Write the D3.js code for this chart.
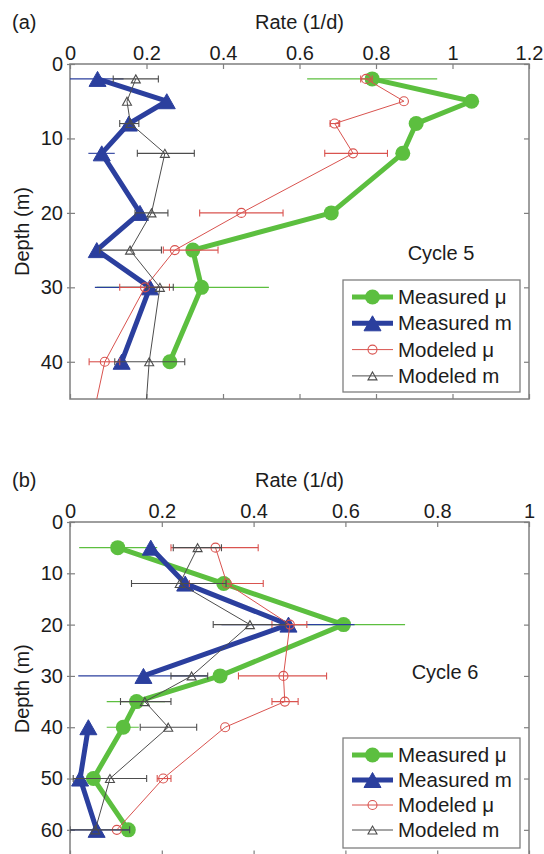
<!DOCTYPE html>
<html><head><meta charset="utf-8">
<script src="https://cdn.jsdelivr.net/npm/d3@7"></script>
<style>body{margin:0;background:#fff;} text{font-family:"Liberation Sans",Arial,Helvetica,sans-serif;}</style>
</head><body><svg id="c" width="544" height="854"></svg>
<script>
// ---------- Panel (a): Cycle 5 ----------
const depthA = [2, 5, 8, 12, 20, 25, 30, 40];
const measMuA    = [0.79, 1.05, 0.905, 0.87, 0.683, 0.321, 0.344, 0.261];
const measMuA_lo = [0.62, null, null, null, null, null, 0.07, null];
const measMuA_hi = [0.96, null, null, null, null, null, 0.52, null];
const measMA     = [0.072, 0.253, 0.154, 0.083, 0.183, 0.07, 0.209, 0.135];
const measMA_lo  = [0.0, null, 0.135, 0.048, null, null, 0.065, null];
const measMA_hi  = [0.14, null, 0.17, 0.117, null, null, 0.24, null];
const modMuA     = [0.774, 0.873, 0.692, 0.74, 0.448, 0.274, 0.196, 0.091];
const modMuA_lo  = [0.76, null, 0.68, 0.666, 0.339, 0.244, 0.13, 0.05];
const modMuA_hi  = [0.79, null, 0.705, 0.83, 0.557, 0.387, 0.26, 0.13];
const modMA      = [0.172, 0.149, 0.158, 0.248, 0.213, 0.157, 0.235, 0.207];
const modMA_lo   = [0.113, null, 0.13, 0.176, 0.17, 0.078, 0.2, 0.117];
const modMA_hi   = [0.231, null, 0.18, 0.325, 0.256, 0.239, 0.27, 0.30];
// modeled profiles continue to the bottom of the panel
const tailDepthA = [45];
const modMuTailA = [0.07];
const modMTailA  = [0.2];
const xTicksA = [0, 0.2, 0.4, 0.6, 0.8, 1, 1.2];
const yTicksA = [0, 10, 20, 30, 40];

// ---------- Panel (b): Cycle 6 ----------
const depthB = [5, 12, 20, 30, 35, 40, 50, 60];
const measMuB    = [0.104, 0.335, 0.596, 0.327, 0.145, 0.116, 0.051, 0.127];
const measMuB_lo = [0.02, null, 0.46, null, 0.08, 0.08, null, null];
const measMuB_hi = [0.19, null, 0.73, null, 0.207, 0.15, null, null];
const measMB     = [0.176, 0.251, 0.476, 0.160, null, 0.04, 0.022, 0.058];
const measMB_lo  = [null, 0.16, 0.33, 0.018, null, null, null, 0.0];
const measMB_hi  = [null, 0.376, 0.62, 0.30, null, null, null, 0.13];
const modMuB     = [0.317, 0.342, 0.479, 0.465, 0.468, 0.338, 0.203, 0.102];
const modMuB_lo  = [0.22, 0.26, 0.44, 0.367, 0.44, null, 0.19, null];
const modMuB_hi  = [0.41, 0.421, 0.516, 0.559, 0.497, null, 0.22, null];
const modMB      = [0.278, 0.239, 0.392, 0.265, 0.163, 0.214, 0.087, 0.055];
const modMB_lo   = [0.225, 0.134, 0.312, 0.22, 0.11, 0.153, 0.007, 0.0];
const modMB_hi   = [0.33, 0.34, 0.47, 0.30, 0.22, 0.276, 0.167, 0.13];
const xTicksB = [0, 0.2, 0.4, 0.6, 0.8, 1];
const yTicksB = [0, 10, 20, 30, 40, 50, 60];

const seriesNames = ["Measured \u03bc", "Measured m", "Modeled \u03bc", "Modeled m"];
const COL = {green: "#5cbf3f", blue: "#2b3f9e", red: "#d9534f", gray: "#4d4d4d", axis: "#7f7f7f", text: "#1c1c1c"};

const svg = d3.select("#c");

function triPath(w, h) {
  return `M0,${-h/2}L${w/2},${h/2}L${-w/2},${h/2}Z`;
}

function panel(cfg) {
  const x = d3.scaleLinear().domain(cfg.xDomain).range([cfg.left, cfg.right]);
  const y = d3.scaleLinear().domain(cfg.yDomain).range([cfg.top, cfg.bottom]);
  const g = svg.append("g");
  const clipId = "clip" + cfg.id;
  g.append("clipPath").attr("id", clipId).append("rect")
    .attr("x", cfg.left).attr("y", cfg.top)
    .attr("width", cfg.right - cfg.left).attr("height", cfg.bottom - cfg.top);

  // axes
  const top = g.append("g").attr("transform", `translate(0,${cfg.top})`)
    .call(d3.axisTop(x).tickValues(cfg.xTicks).tickFormat(d3.format("~g")).tickSize(-5).tickPadding(4));
  const bot = g.append("g").attr("transform", `translate(0,${cfg.bottom})`)
    .call(d3.axisBottom(x).tickValues(cfg.xTicks).tickFormat("").tickSize(-5));
  const lft = g.append("g").attr("transform", `translate(${cfg.left},0)`)
    .call(d3.axisLeft(y).tickValues(cfg.yTicks).tickFormat(d3.format("~g")).tickSize(-5).tickPadding(7));
  const lft2 = g.append("g").attr("transform", `translate(${cfg.left},0)`)
    .call(d3.axisLeft(y).tickValues(cfg.yTicks).tickFormat("").tickSize(3));
  const rgt = g.append("g").attr("transform", `translate(${cfg.right},0)`)
    .call(d3.axisRight(y).tickValues(cfg.yTicks).tickFormat("").tickSize(-5));
  [top, bot, lft, lft2, rgt].forEach(a => {
    a.select(".domain").remove();
    a.selectAll(".tick line").attr("stroke", COL.axis).attr("stroke-width", 1.2);
    a.selectAll("text").attr("font-size", 20).attr("fill", COL.text)
      .style("font-family", '"Liberation Sans",Arial,sans-serif');
  });
  g.append("rect").attr("x", cfg.left).attr("y", cfg.top)
    .attr("width", cfg.right - cfg.left).attr("height", cfg.bottom - cfg.top)
    .attr("fill", "none").attr("stroke", COL.axis).attr("stroke-width", 1.5);

  // labels
  g.append("text").attr("x", (cfg.left + cfg.right) / 2).attr("y", cfg.top - 35)
    .attr("text-anchor", "middle").attr("font-size", 20).attr("fill", COL.text).text("Rate (1/d)");
  g.append("text").attr("x", 12).attr("y", cfg.top - 35)
    .attr("font-size", 20).attr("fill", COL.text).text(cfg.tag);
  g.append("text").attr("transform", `translate(29,${(cfg.top + cfg.bottom) / 2}) rotate(-90)`)
    .attr("text-anchor", "middle").attr("font-size", 20).attr("fill", COL.text).text("Depth (m)");
  g.append("text").attr("x", cfg.cycleX).attr("y", cfg.cycleY)
    .attr("text-anchor", "middle").attr("font-size", 20).attr("fill", COL.text).text(cfg.cycle);

  const plot = g.append("g").attr("clip-path", `url(#${clipId})`);

  cfg.series.forEach(s => {
    const pts = s.depth.map((d, i) => ({d, v: s.vals[i], lo: s.lo ? s.lo[i] : null, hi: s.hi ? s.hi[i] : null}));
    // error bars
    pts.filter(p => p.v != null && p.lo != null && p.hi != null).forEach(p => {
      plot.append("line").attr("x1", x(p.lo)).attr("x2", x(p.hi)).attr("y1", y(p.d)).attr("y2", y(p.d))
        .attr("stroke", s.color).attr("stroke-width", 1.1);
      if (s.caps) {
        [p.lo, p.hi].forEach(e => plot.append("line").attr("x1", x(e)).attr("x2", x(e))
          .attr("y1", y(p.d) - 3.5).attr("y2", y(p.d) + 3.5).attr("stroke", s.color).attr("stroke-width", 1.1));
      }
    });
    // line
    const linePts = pts.concat((s.tailD || []).map((d, i) => ({d, v: s.tailV[i]})));
    plot.append("path").datum(linePts)
      .attr("d", d3.line().defined(p => p.v != null).x(p => x(p.v)).y(p => y(p.d)))
      .attr("fill", "none").attr("stroke", s.color).attr("stroke-width", s.lw).attr("stroke-linejoin", "round");
    // markers
    pts.filter(p => p.v != null).forEach(p => drawMarker(plot, s, x(p.v), y(p.d)));
  });

  // legend
  const L = cfg.legend;
  g.append("rect").attr("x", L.x).attr("y", L.y).attr("width", L.w).attr("height", L.h)
    .attr("fill", "#fff").attr("stroke", COL.axis).attr("stroke-width", 1.3);
  cfg.series.forEach((s, i) => {
    const cy = L.y + L.first + i * L.step;
    g.append("line").attr("x1", L.x + 9).attr("x2", L.x + 50).attr("y1", cy).attr("y2", cy)
      .attr("stroke", s.color).attr("stroke-width", s.lw);
    drawMarker(g, s, L.x + 29.5, cy);
    g.append("text").attr("x", L.x + 55).attr("y", cy + 7).attr("font-size", 20.5).attr("fill", COL.text).text(s.name);
  });
}

function drawMarker(sel, s, cx, cy) {
  if (s.marker === "dot") {
    sel.append("circle").attr("cx", cx).attr("cy", cy).attr("r", 7.5).attr("fill", s.color);
  } else if (s.marker === "tri") {
    sel.append("path").attr("d", triPath(17, 15)).attr("transform", `translate(${cx},${cy})`).attr("fill", s.color)
      .attr("stroke", s.color).attr("stroke-width", 1);
  } else if (s.marker === "ocircle") {
    sel.append("circle").attr("cx", cx).attr("cy", cy).attr("r", 4.5).attr("fill", "none")
      .attr("stroke", s.color).attr("stroke-width", 1.1);
  } else {
    sel.append("path").attr("d", triPath(9, 8)).attr("transform", `translate(${cx},${cy})`).attr("fill", "none")
      .attr("stroke", s.color).attr("stroke-width", 1.1);
  }
}

panel({
  id: "a", tag: "(a)", cycle: "Cycle 5", cycleX: 441, cycleY: 260,
  left: 70, right: 529, top: 64, bottom: 399,
  xDomain: [0, 1.2], yDomain: [0, 45], xTicks: xTicksA, yTicks: yTicksA,
  legend: {x: 343, y: 280, w: 177, h: 112, first: 17, step: 26.3},
  series: [
    {name: seriesNames[0], depth: depthA, vals: measMuA, lo: measMuA_lo, hi: measMuA_hi, color: COL.green, lw: 5, marker: "dot"},
    {name: seriesNames[1], depth: depthA, vals: measMA, lo: measMA_lo, hi: measMA_hi, color: COL.blue, lw: 5, marker: "tri"},
    {name: seriesNames[2], depth: depthA, vals: modMuA, lo: modMuA_lo, hi: modMuA_hi, color: COL.red, lw: 1, marker: "ocircle", caps: true, tailD: tailDepthA, tailV: modMuTailA},
    {name: seriesNames[3], depth: depthA, vals: modMA, lo: modMA_lo, hi: modMA_hi, color: COL.gray, lw: 1, marker: "otri", caps: true, tailD: tailDepthA, tailV: modMTailA}
  ]
});

panel({
  id: "b", tag: "(b)", cycle: "Cycle 6", cycleX: 445, cycleY: 679,
  left: 70, right: 529, top: 522, bottom: 855.5,
  xDomain: [0, 1], yDomain: [0, 65], xTicks: xTicksB, yTicks: yTicksB,
  legend: {x: 343, y: 738, w: 177, h: 110, first: 17, step: 25},
  series: [
    {name: seriesNames[0], depth: depthB, vals: measMuB, lo: measMuB_lo, hi: measMuB_hi, color: COL.green, lw: 5, marker: "dot"},
    {name: seriesNames[1], depth: depthB, vals: measMB, lo: measMB_lo, hi: measMB_hi, color: COL.blue, lw: 5, marker: "tri"},
    {name: seriesNames[2], depth: depthB, vals: modMuB, lo: modMuB_lo, hi: modMuB_hi, color: COL.red, lw: 1, marker: "ocircle", caps: true},
    {name: seriesNames[3], depth: depthB, vals: modMB, lo: modMB_lo, hi: modMB_hi, color: COL.gray, lw: 1, marker: "otri", caps: true}
  ]
});
</script></body></html>
